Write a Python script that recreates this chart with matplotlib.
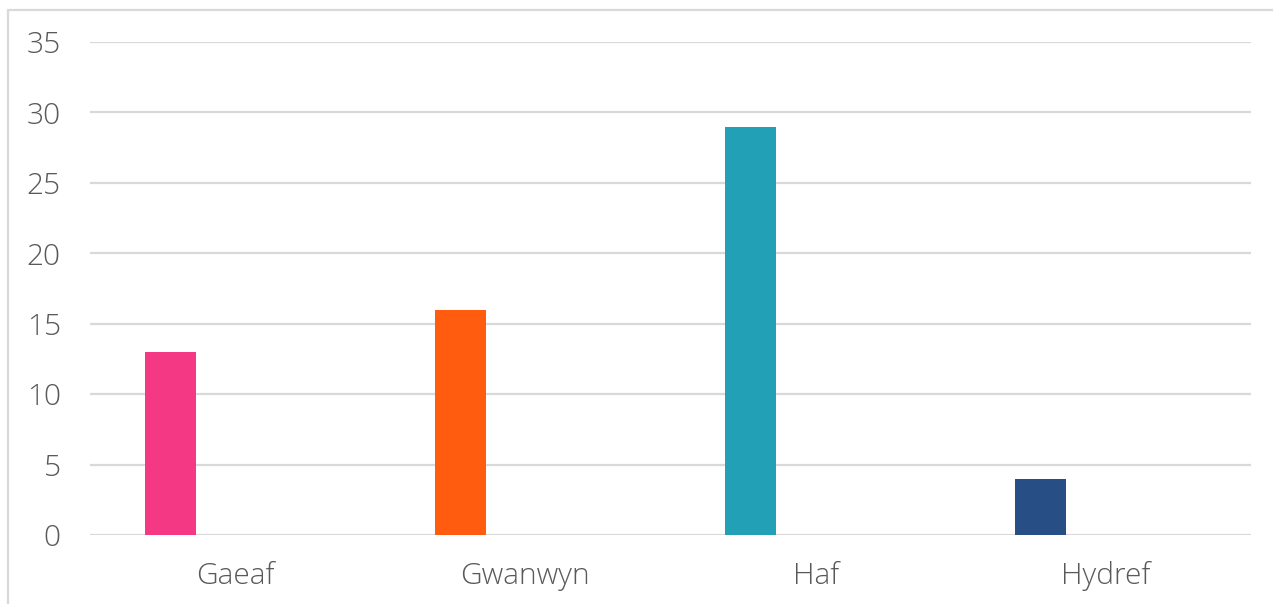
import matplotlib.pyplot as plt
from matplotlib.patches import Rectangle
import numpy as np

# season counts
seasons = ["Gaeaf", "Gwanwyn", "Haf", "Hydref"]
counts = [13, 16, 29, 4]
colours = ["#F43883", "#FF5C0F", "#22A0B6", "#284F85"]
yticks = [0, 5, 10, 15, 20, 25, 30, 35]

plt.rcParams["font.family"] = ["Open Sans", "DejaVu Sans"]
plt.rcParams["font.weight"] = "light"

fig = plt.figure(figsize=(12.73, 6.04), dpi=100)
ax = fig.add_axes([0.0707, 0.1142, 0.9120, 0.8163])

x = np.arange(len(seasons))
ax.bar(x - 0.224, counts, width=0.176, color=colours, zorder=3)

ax.set_xlim(-0.5, len(seasons) - 0.5)
ax.set_ylim(0, 35)
ax.set_yticks(yticks)
ax.set_xticks(x)
ax.set_xticklabels(seasons)
ax.grid(axis="y", color="#D9D9D9", linewidth=1.6, zorder=0)
ax.set_axisbelow(True)
for s in ax.spines.values():
    s.set_visible(False)
ax.tick_params(axis="both", length=0, labelsize=21.5, labelcolor="#595959")
ax.tick_params(axis="y", pad=21)
ax.tick_params(axis="x", pad=19)

# light frame round the chart area, cut off at the right and bottom
fig.patches.append(Rectangle((8 / 1273, -0.1), 1.2, 1 - 10 / 604 + 0.1,
                             transform=fig.transFigure, fill=False,
                             edgecolor="#D9D9D9", linewidth=1.6))

fig.savefig("out.png", dpi=100)
